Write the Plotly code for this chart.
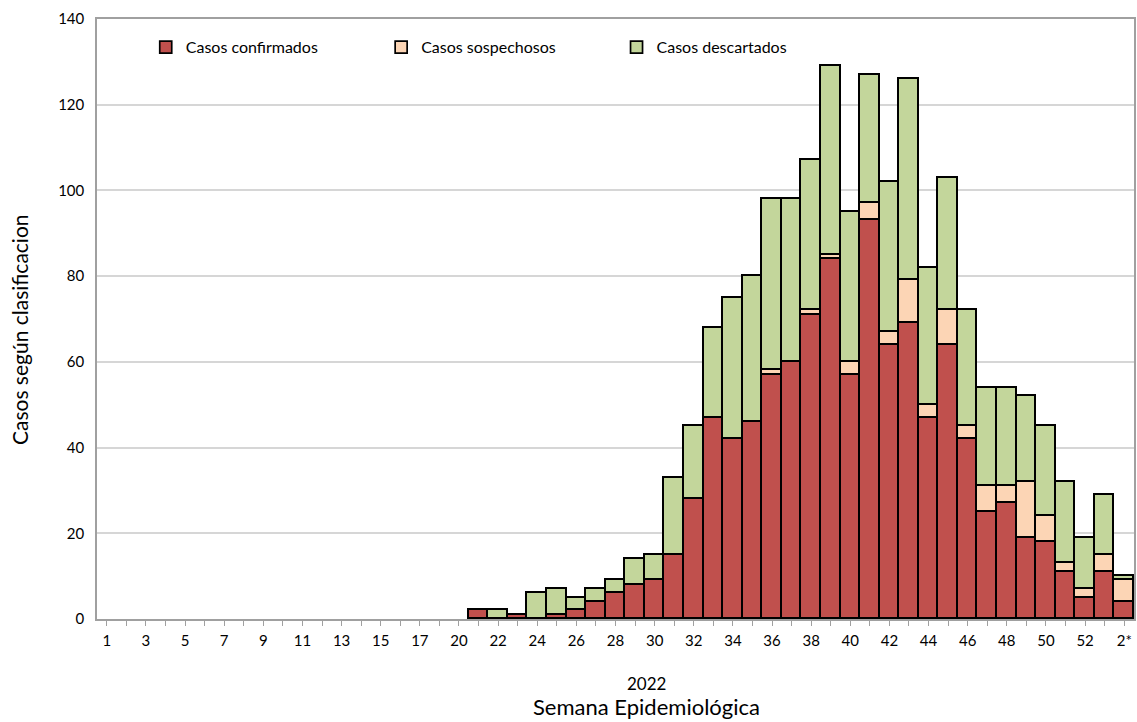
import plotly.graph_objects as go

# Semanas epidemiologicas (2022 y primeras de 2023)
semanas = [str(w) for w in range(1, 19)] + [str(w) for w in range(20, 53)] + ["1*", "2*"]
etiquetas = {s: s for s in semanas[0:17:2]}
etiquetas.update({s: s for s in semanas[18::2]})

confirmados = [0] * 18 + [0, 2, 0, 1, 0, 1, 2, 4, 6, 8, 9, 15, 28, 47, 42, 46, 57, 60, 71, 84,
                          57, 93, 64, 69, 47, 64, 42, 25, 27, 19, 18, 11, 5, 11, 4]
sospechosos = [0] * 18 + [0, 0, 0, 0, 0, 0, 0, 0, 0, 0, 0, 0, 0, 0, 0, 0, 1, 0, 1, 1,
                          3, 4, 3, 10, 3, 8, 3, 6, 4, 13, 6, 2, 2, 4, 5]
totales = [0] * 18 + [0, 2, 2, 1, 6, 7, 5, 7, 9, 14, 15, 33, 45, 68, 75, 80, 98, 98, 107, 129,
                      95, 127, 102, 126, 82, 103, 72, 54, 54, 52, 45, 32, 19, 29, 10]
descartados = [t - c - s for t, c, s in zip(totales, confirmados, sospechosos)]

FONT = "Lato, Open Sans, sans-serif"
line = dict(color="black", width=1.7)


def sin_ceros(valores):
    # las barras de altura 0 dibujan un borde negro, mejor no dibujarlas
    return [v if v else None for v in valores]


fig = go.Figure()
fig.add_trace(go.Bar(x=semanas, y=sin_ceros(confirmados), name="Casos confirmados",
                     marker=dict(color="#C0504D", line=line), legend="legend"))
fig.add_trace(go.Bar(x=semanas, y=sin_ceros(sospechosos), name="Casos sospechosos",
                     marker=dict(color="#FCD5B5", line=line), legend="legend2"))
fig.add_trace(go.Bar(x=semanas, y=sin_ceros(descartados), name="Casos descartados",
                     marker=dict(color="#C3D69B", line=line), legend="legend3"))

leg = dict(orientation="h", yanchor="middle", xanchor="left", y=0.953,
           bgcolor="rgba(0,0,0,0)", font=dict(family=FONT, size=16, color="black"),
           itemwidth=30)

fig.update_layout(
    width=1137, height=722,
    margin=dict(l=97, r=1, t=19, b=103),
    barmode="stack", bargap=0,
    plot_bgcolor="white", paper_bgcolor="white",
    font=dict(family=FONT, size=15, color="black"),
    showlegend=True,
    legend=dict(leg, x=0.047),
    legend2=dict(leg, x=0.274),
    legend3=dict(leg, x=0.501),
    xaxis=dict(
        type="category", categoryorder="array", categoryarray=semanas,
        tickvals=semanas, ticktext=[etiquetas.get(s, "") for s in semanas],
        ticks="outside", ticklen=5, tickcolor="#A0A0A0", tickangle=0,
        ticklabelstandoff=2,
        showline=True, linecolor="#A0A0A0", linewidth=1.5, mirror=True,
        showgrid=False, tickfont=dict(size=15),
    ),
    yaxis=dict(
        range=[0, 140], dtick=20, showgrid=True, gridcolor="#D6D6D6", gridwidth=1.5,
        showline=True, linecolor="#A0A0A0", linewidth=1.5, mirror=True,
        ticks="", ticklabelstandoff=8, tickfont=dict(size=15), zeroline=False,
    ),
    annotations=[
        dict(text="2022", xref="paper", yref="paper", x=0.530, y=-0.107,
             showarrow=False, font=dict(size=17), xanchor="center", yanchor="middle"),
        dict(text="Semana Epidemiológica", xref="paper", yref="paper", x=0.530, y=-0.145,
             showarrow=False, font=dict(size=22), xanchor="center", yanchor="middle"),
        dict(text="Casos según clasificacion", xref="paper", yref="paper", x=-0.074, y=0.482,
             showarrow=False, textangle=-90, font=dict(size=21), xanchor="center",
             yanchor="middle"),
    ],
)

# quitar el margen por defecto del body para que el grafico ocupe toda la ventana
fig.write_html("out.html", config={"displayModeBar": False},
               post_script="document.body.style.margin='0';")
